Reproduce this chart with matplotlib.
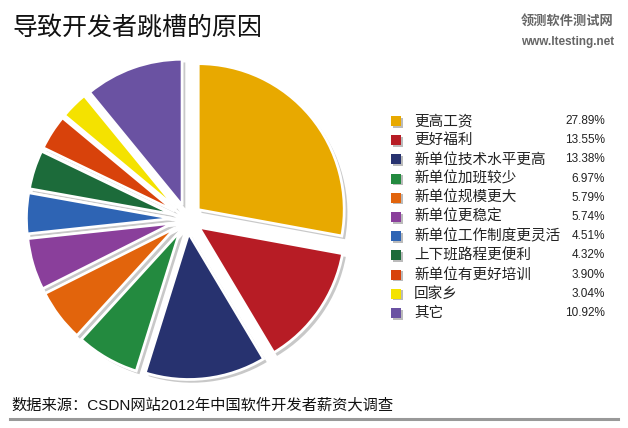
import matplotlib
matplotlib.use("Agg")
import matplotlib.pyplot as plt
from matplotlib.patches import Rectangle

plt.rcParams['font.family'] = ['Noto Sans CJK SC', 'DejaVu Sans']

# données
raisons = ['更高工资', '更好福利', '新单位技术水平更高', '新单位加班较少', '新单位规模更大',
           '新单位更稳定', '新单位工作制度更灵活', '上下班路程更便利', '新单位有更好培训',
           '回家乡', '其它']
pourcentages = [27.89, 13.55, 13.38, 6.97, 5.79, 5.74, 4.51, 4.32, 3.90, 3.04, 10.92]
couleurs = ['#E8A900', '#B71C25', '#27326F', '#238A3F', '#E2640C', '#8A3F9B',
            '#2E64B4', '#1C6B3A', '#D8420B', '#F4E200', '#6A52A2']
explode = [0.1] * len(pourcentages)

W, H = 628, 428
fig = plt.figure(figsize=(W / 100, H / 100), dpi=100)

# camembert : centre (187, 219) px, rayon ~146 px
R = 146
cx, cy = 187, 219
lim = 1.2
demi = lim * R
ax = fig.add_axes([(cx - demi) / W, (H - cy - demi) / H, 2 * demi / W, 2 * demi / H])
ax.axis('off')

# ombre grise derrière
ax.pie(pourcentages, startangle=90, counterclock=False, explode=explode,
       colors=['#c8c8c8'] * len(pourcentages), center=(0.022, -0.022),
       wedgeprops=dict(linewidth=0), normalize=True)
ax.pie(pourcentages, startangle=90, counterclock=False, explode=explode,
       colors=couleurs, wedgeprops=dict(edgecolor='white', linewidth=2), normalize=True)
ax.set_aspect('equal')
ax.set_xlim(-lim, lim)
ax.set_ylim(-lim, lim)

# titre
fig.text(12 / W, 1 - 28 / H, '导致开发者跳槽的原因', fontsize=18, va='center', ha='left',
         color='#111111')

# filigrane
fig.text(614 / W, 1 - 21 / H, '领测软件测试网', fontsize=9.5, va='center', ha='right',
         color='#666666', fontweight='bold')
fig.text(614 / W, 1 - 42 / H, 'www.ltesting.net', fontsize=8.5, va='center', ha='right',
         color='#666666', fontweight='bold', family=['Liberation Sans', 'DejaVu Sans'])

# légende
y0 = 121
pas = 19.2
for i, (lab, p, c) in enumerate(zip(raisons, pourcentages, couleurs)):
    y = y0 + i * pas
    fig.patches.append(Rectangle(((391 + 1.5) / W, 1 - (y + 5 + 1.5) / H), 10 / W, 10 / H,
                                 transform=fig.transFigure, facecolor='#bbbbbb', edgecolor='none'))
    fig.patches.append(Rectangle((391 / W, 1 - (y + 5) / H), 10 / W, 10 / H,
                                 transform=fig.transFigure, facecolor=c, edgecolor='none'))
    fig.text(414 / W, 1 - y / H, lab, fontsize=10.5, va='center', ha='left', color='#222222')
    fig.text(605 / W, 1 - y / H, '%.2f%%' % p, fontsize=8.5, va='center', ha='right',
             color='#222222', family=['Liberation Sans', 'DejaVu Sans'])

# source
fig.text(11 / W, 1 - 405 / H, '数据来源：CSDN网站2012年中国软件开发者薪资大调查', fontsize=11,
         va='center', ha='left', color='#111111',
         family=['Liberation Sans', 'Noto Sans CJK SC'])
fig.add_artist(plt.Line2D([10 / W, 618 / W], [1 - 419 / H, 1 - 419 / H],
                          transform=fig.transFigure, color='#999999', linewidth=2.2))

fig.savefig('out.png', dpi=100, facecolor='white')
